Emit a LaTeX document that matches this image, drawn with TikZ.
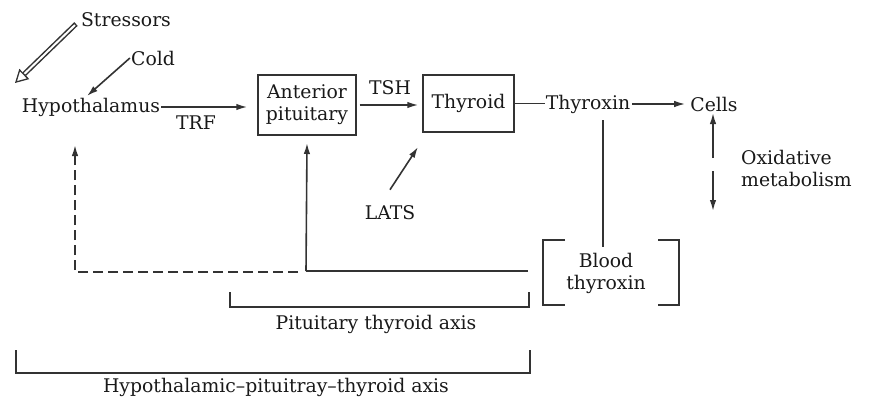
\documentclass[tikz,border=0pt]{standalone}
\usepackage{fontspec}
\setmainfont{DejaVu Serif}
\usetikzlibrary{arrows.meta,calc}
\begin{document}
\begin{tikzpicture}[x=1pt,y=-1pt,
  ln/.style={draw=black!80,line width=1.6pt},
  arr/.style={ln,-{Latex[length=11pt,width=6.5pt]}},
  txt/.style={inner sep=1pt,font=\fontsize{18.8}{22}\selectfont,text=black!90},
  boxn/.style={txt,draw=black!80,line width=1.4pt,align=center,minimum width=98pt,minimum height=60pt},
]
\useasboundingbox (0,0) rectangle (882,396);
% nodes
\node[txt] (stress) at (126,20) {Stressors};
\node[txt] (cold) at (153,58) {Cold};
\node[txt] (hyp) at (91,107) {Hypothalamus};
\node[txt] (trf) at (196,123) {TRF};
\node[boxn] (ap) at (307,105) {Anterior\\pituitary};
\node[txt] (tsh) at (390,88) {TSH};
\node[boxn,minimum width=91pt,minimum height=57pt] (thy) at (468.5,103.5) {Thyroid};
\node[txt] (tx) at (588,104) {Thyroxin};
\node[txt] (cells) at (714,104) {Cells};
\node[txt,anchor=west,align=left] (ox) at (740,168) {Oxidative\\metabolism};
\node[txt] (lats) at (390,213) {LATS};
\node[txt,align=center] (blood) at (606,273) {Blood\\thyroxin};
\node[txt] (pta) at (376,324) {Pituitary thyroid axis};
\node[txt] (hpta) at (276,387) {Hypothalamic--pituitray--thyroid axis};
% coordinates
\coordinate (stail) at (76,24);
\coordinate (stip) at (15,83);
\coordinate (shead) at ($(stip)!13pt!(stail)$);
\coordinate (coldtip) at (87,96);
\coordinate (latstip) at (418,147);
\coordinate (upb) at (713,158);
\coordinate (upt) at (713,113);
\coordinate (dnb) at (713,171);
\coordinate (dnt) at (713,211);
\coordinate (txdown) at (603,120);
\coordinate (btop) at (603,247);
\coordinate (fbR) at (528,271);
\coordinate (fbM) at (306,271);
\coordinate (fbD) at (298,272);
\coordinate (fbL) at (75,272);
% connectors
\draw[line width=5pt,black!80] (stail) -- (shead);
\draw[line width=2pt,white,shorten <=1.5pt] (stail) -- (shead);
\draw[line width=1.3pt,black!80,-{Triangle[open,length=13pt,width=14pt]}] (shead) -- (stip);
\draw[arr] (cold.west) -- (coldtip);
\draw[arr,shorten >=10pt] (hyp.east) -- (hyp.east -| ap.west);
\draw[arr,shorten <=3pt,shorten >=4pt] (ap.east) -- (ap.east -| thy.west);
\draw[ln] (thy.east) -- (thy.east -| tx.west);
\draw[arr,shorten <=1pt,shorten >=4pt] (tx.east) -- (tx.east -| cells.west);
\draw[arr] (lats.north) ++(0,-15) -- (latstip);
\draw[arr] (upb) -- (upt);
\draw[arr] (dnb) -- (dnt);
\draw[ln] (txdown) -- (btop);
\draw[ln] (fbR) -- (fbM);
\draw[arr] (fbM) -- (ap.south |- 0,143);
\draw[ln,dashed,dash pattern=on 10pt off 5pt,-{Latex[length=11pt,width=6.5pt]}] (fbD) -- (fbL) -- (75,145);
% blood brackets
\draw[ln,line width=1.4pt] (565,240) -- (543,240) -- (543,305) -- (565,305);
\draw[ln,line width=1.4pt] (658,240) -- (679,240) -- (679,305) -- (658,305);
% axis brackets
\draw[ln,line width=1.4pt] (230,292) -- (230,307) -- (529,307) -- (529,292);
\draw[ln,line width=1.4pt] (16,350) -- (16,373) -- (530,373) -- (530,350);
\end{tikzpicture}
\end{document}
